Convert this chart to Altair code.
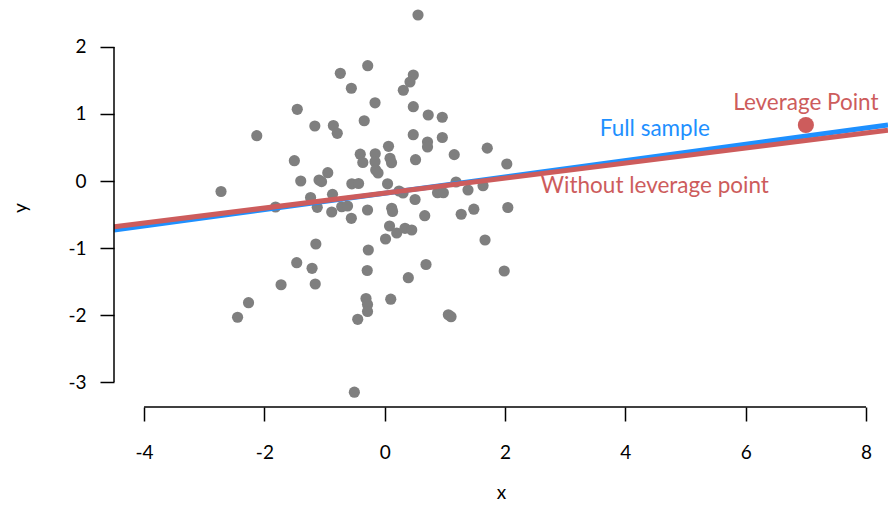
import altair as alt
import pandas as pd

# ---- data ----
xs = [0.553, -0.283, -0.738, -0.555, 0.475, 0.420, 0.309, -0.161, 0.475, 0.723,
      0.956, -0.341, -1.454, -2.127, -1.162, -0.854, -0.789, 0.474, 0.957, 0.711,
      0.711, 0.063, 1.704, 1.155, 2.029, -0.407, -0.158, -0.364, -0.161, 0.088,
      0.113, 0.512, -0.150, -0.111, -1.502, -1.396, -0.947, -1.092, -1.050, -0.547,
      -0.435, 0.047, -2.721, -1.233, -0.868, -1.815, -1.122, -0.881, -0.715, -0.618,
      -0.286, -0.555, 0.116, 0.130, 0.238, 0.304, 0.504, 0.878, 0.974, 1.185,
      1.384, 1.634, 0.665, 1.271, 1.481, 2.046, 0.080, 0.199, 0.337, 0.449,
      0.013, -1.145, -0.273, 1.667, -1.463, -1.208, -0.291, 0.686, 1.986, 0.392,
      -1.723, -1.155, -2.264, -2.446, -0.311, -0.286, -0.286, -0.449, 0.100, 1.057,
      1.102, -0.505]
ys = [2.478, 1.721, 1.607, 1.384, 1.582, 1.478, 1.354, 1.167, 1.109, 0.985,
      0.951, 0.899, 1.070, 0.676, 0.821, 0.828, 0.712, 0.691, 0.649, 0.582,
      0.507, 0.518, 0.490, 0.393, 0.254, 0.400, 0.406, 0.276, 0.288, 0.339,
      0.273, 0.318, 0.164, 0.119, 0.303, 0.000, 0.124, 0.015, -0.010, -0.042,
      -0.037, -0.042, -0.157, -0.246, -0.199, -0.388, -0.393, -0.463, -0.384, -0.373,
      -0.433, -0.557, -0.407, -0.455, -0.149, -0.179, -0.276, -0.175, -0.175, -0.015,
      -0.134, -0.070, -0.518, -0.496, -0.421, -0.396, -0.672, -0.776, -0.706, -0.731,
      -0.866, -0.940, -1.030, -0.881, -1.219, -1.303, -1.336, -1.246, -1.343, -1.443,
      -1.548, -1.537, -1.816, -2.034, -1.754, -1.843, -1.948, -2.064, -1.764, -1.997,
      -2.025, -3.152]

lev_x = [7.0]
lev_y = [0.836]

fit_names = ["Full sample", "Without leverage point"]
fit_intercepts = [-0.184, -0.180]
fit_slopes = [0.122, 0.112]
fit_colors = ["#1E90FF", "#CD5C5C"]

x_ticks = [-4, -2, 0, 2, 4, 6, 8]
y_ticks = [-3, -2, -1, 0, 1, 2]

label_texts = ["Leverage Point", "Full sample", "Without leverage point"]
label_x = [7.0, 4.49, 4.49]
label_y = [1.164, 0.776, -0.075]
label_colors = ["#CD5C5C", "#1E90FF", "#CD5C5C"]

# ---- scales ----
X_MIN, X_MAX = -4.5, 8.365
Y_MIN, Y_MAX = -3.373, 2.582
FONT = "Lato"

xsc = alt.Scale(domain=[X_MIN, X_MAX], nice=False, zero=False)
ysc = alt.Scale(domain=[Y_MIN, Y_MAX], nice=False, zero=False)

pts = pd.DataFrame({"x": xs, "y": ys})
lev = pd.DataFrame({"x": lev_x, "y": lev_y})

rows = []
for n, a, b in zip(fit_names, fit_intercepts, fit_slopes):
    for xv in (X_MIN, X_MAX):
        rows.append({"name": n, "x": xv, "y": a + b * xv})
fits = pd.DataFrame(rows)

labels = pd.DataFrame({"t": label_texts, "x": label_x, "y": label_y, "c": label_colors})

minus_fix = "datum.value < 0 ? '-' + abs(datum.value) : '' + datum.value"

x_axis = alt.Axis(values=x_ticks, domain=False, grid=False, ticks=True, tickSize=14,
                  tickWidth=1.5, tickColor="black", labelFontSize=19, labelFont=FONT,
                  labelColor="black", labelPadding=22, labelExpr=minus_fix,
                  title="x", titleFont=FONT, titleFontSize=19, titleFontWeight="normal",
                  titleColor="black", titlePadding=21)
y_axis = alt.Axis(values=y_ticks, domain=False, grid=False, ticks=True, tickSize=14,
                  tickWidth=1.5, tickColor="black", labelFontSize=19, labelFont=FONT,
                  labelColor="black", labelPadding=14, labelExpr=minus_fix,
                  title="y", titleFont=FONT, titleFontSize=19, titleFontWeight="normal",
                  titleColor="black", titlePadding=37)

points = alt.Chart(pts).mark_circle(size=125, color="#7F7F7F", opacity=1).encode(
    x=alt.X("x:Q", scale=xsc, axis=x_axis),
    y=alt.Y("y:Q", scale=ysc, axis=y_axis),
)

lines = alt.Chart(fits).mark_line(strokeWidth=5, clip=True).encode(
    x=alt.X("x:Q", scale=xsc),
    y=alt.Y("y:Q", scale=ysc),
    detail="name:N",
    color=alt.Color("name:N", scale=alt.Scale(domain=fit_names, range=fit_colors), legend=None),
    order=alt.Order("name:N"),
)

lev_pt = alt.Chart(lev).mark_circle(size=260, color="#CD5C5C", opacity=1).encode(
    x=alt.X("x:Q", scale=xsc), y=alt.Y("y:Q", scale=ysc))

texts = alt.Chart(labels).mark_text(font=FONT, fontSize=22.5, align="center", baseline="middle").encode(
    x=alt.X("x:Q", scale=xsc), y=alt.Y("y:Q", scale=ysc),
    text="t:N", color=alt.Color("c:N", scale=None))

xaxis_line = alt.Chart(pd.DataFrame({"x": [x_ticks[0]], "x2": [x_ticks[-1]], "y": [Y_MIN]})).mark_rule(
    color="black", strokeWidth=1.5).encode(
    x=alt.X("x:Q", scale=xsc), x2="x2:Q", y=alt.Y("y:Q", scale=ysc))
yaxis_line = alt.Chart(pd.DataFrame({"y": [y_ticks[0]], "y2": [y_ticks[-1]], "x": [X_MIN]})).mark_rule(
    color="black", strokeWidth=1.5).encode(
    y=alt.Y("y:Q", scale=ysc), y2="y2:Q", x=alt.X("x:Q", scale=xsc))

chart = alt.layer(points, lines, lev_pt, texts, xaxis_line, yaxis_line).properties(
    width=774, height=399,
    autosize=alt.AutoSizeParams(type="none"),
    padding={"left": 106, "top": 0, "right": 0, "bottom": 100},
).configure(background="white").configure_view(stroke=None, strokeWidth=0)

chart.save("out.html", embed_options={"renderer": "svg", "actions": False})
